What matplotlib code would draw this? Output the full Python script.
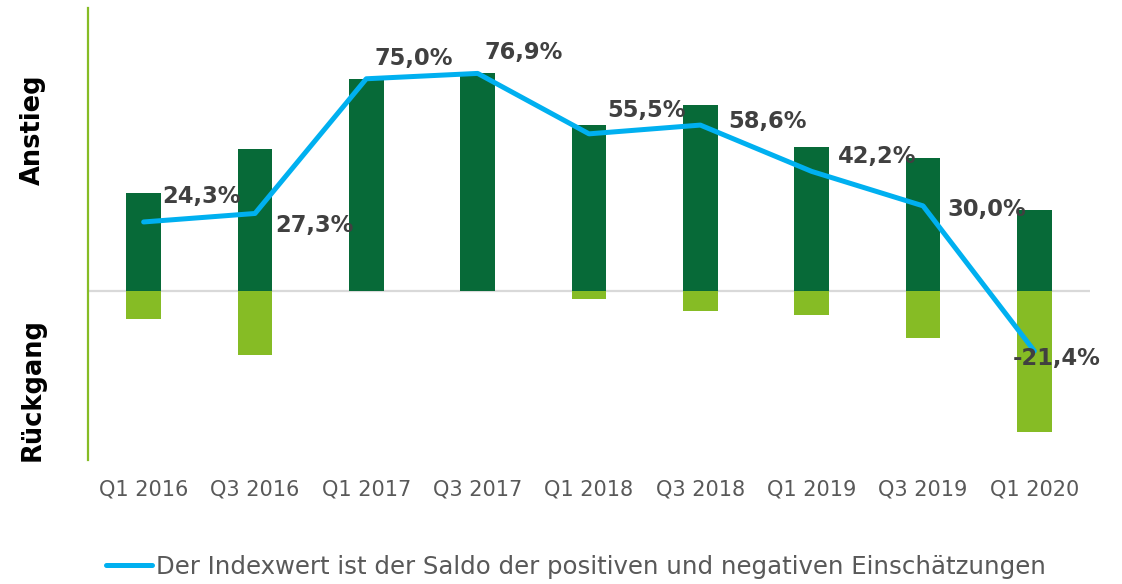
import matplotlib.pyplot as plt
import numpy as np

# Werte
quartale = ["Q1 2016", "Q3 2016", "Q1 2017", "Q3 2017", "Q1 2018",
            "Q3 2018", "Q1 2019", "Q3 2019", "Q1 2020"]
anstieg = [34.5, 50.0, 75.0, 76.9, 58.6, 65.7, 51.0, 46.9, 28.6]
rueckgang = [-10.2, -22.7, 0.0, 0.0, -3.1, -7.1, -8.8, -16.9, -50.0]
indexwert = [24.3, 27.3, 75.0, 76.9, 55.5, 58.6, 42.2, 30.0, -21.4]
beschriftung = ["24,3%", "27,3%", "75,0%", "76,9%", "55,5%",
                "58,6%", "42,2%", "30,0%", "-21,4%"]

DUNKELGRUEN = "#076a38"
HELLGRUEN = "#86bc25"
BLAU = "#00b0f0"

fig = plt.figure(figsize=(11.22, 5.84), dpi=100)
ax = fig.add_axes([0.0784, 0.2123, 0.8931, 0.7737])

x = np.arange(len(quartale))
ax.bar(x, anstieg, width=0.31, color=DUNKELGRUEN, zorder=2)
ax.bar(x, rueckgang, width=0.31, color=HELLGRUEN, zorder=2)
ax.axhline(0, color="#d9d9d9", lw=1.6, zorder=1)
linie, = ax.plot(x, indexwert, color=BLAU, lw=3.6, solid_capstyle="round",
                 solid_joinstyle="round", zorder=3)

# Versatz der Beschriftungen in Pixeln
versatz = [(19, 25), (20, -12), (8, 20), (7, 21), (18, 23),
           (28, 4), (26, 15), (24, -4), (-22, -7)]
for xi, yi, txt, off in zip(x, indexwert, beschriftung, versatz):
    ax.annotate(txt, (xi, yi), xytext=off, textcoords="offset pixels",
                ha="left", va="center", fontsize=16.3, fontweight="bold",
                color="#404040", zorder=4)

ax.set_xlim(-0.5, len(quartale) - 0.5)
ax.set_ylim(-60, 100)
ax.set_xticks(x)
ax.set_xticklabels(quartale, fontsize=15, color="#595959")
ax.tick_params(axis="x", length=0, pad=14)
ax.set_yticks([])
for s in ["top", "right", "bottom"]:
    ax.spines[s].set_visible(False)
ax.spines["left"].set_color(HELLGRUEN)
ax.spines["left"].set_linewidth(1.6)

fig.text(0.029, 1 - 130 / 584, "Anstieg", rotation=90, ha="center",
         va="center", fontsize=18.5, fontweight="bold")
fig.text(0.029, 1 - 390 / 584, "Rückgang", rotation=90, ha="center",
         va="center", fontsize=18.5, fontweight="bold")

fig.legend([linie], ["Der Indexwert ist der Saldo der positiven und negativen Einschätzungen"],
           loc="center", bbox_to_anchor=(0.513, 1 - 567 / 584), frameon=False,
           fontsize=17.6, labelcolor="#595959", handlelength=1.9,
           handletextpad=0.15)

fig.savefig("out.png", dpi=100)
